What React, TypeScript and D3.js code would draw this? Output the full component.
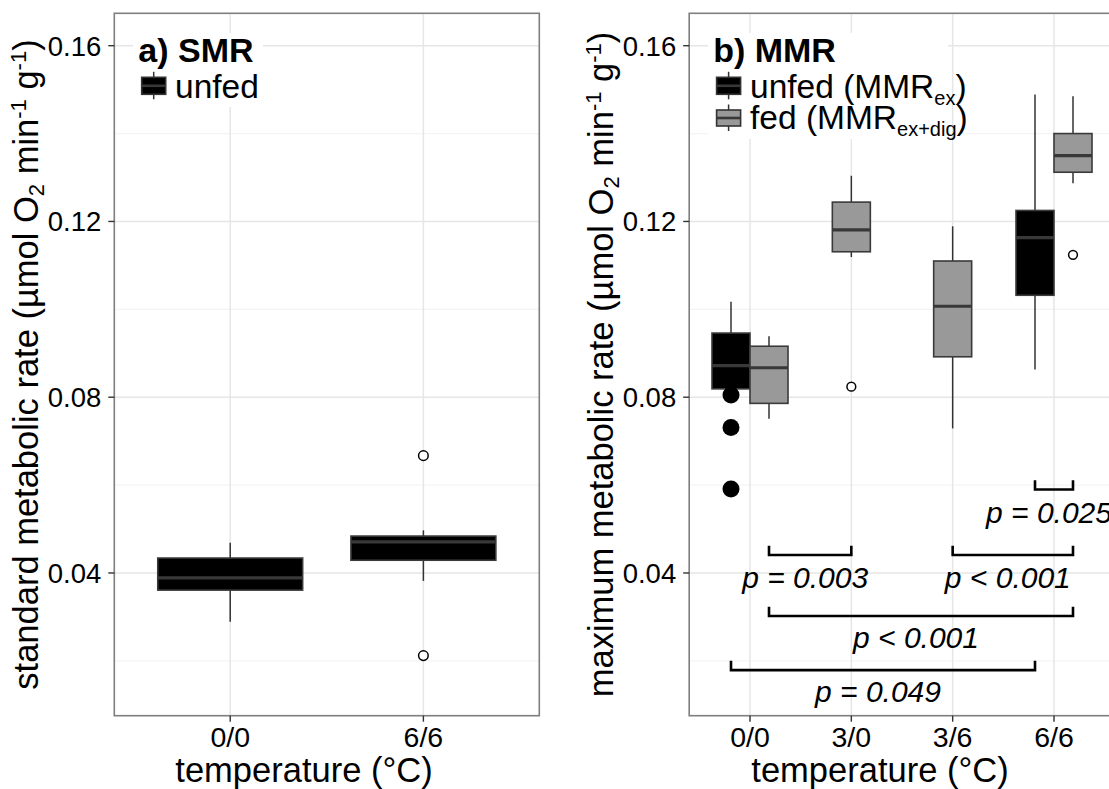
import React from "react";
import * as d3 from "d3";

// ---------- data ----------
const smrCategories = ["0/0", "6/6"];
const smrLower = [0.0289, 0.0382];
const smrQ1 = [0.0361, 0.0429];
const smrMedian = [0.0389, 0.0471];
const smrQ3 = [0.0434, 0.0484];
const smrUpper = [0.0469, 0.0497];
const smrOutliers: number[][] = [[], [0.0667, 0.0212]];

const mmrCategories = ["0/0", "3/0", "3/6", "6/6"];

const unfedCategories = ["0/0", "6/6"];
const unfedLower = [0.0819, 0.0863];
const unfedQ1 = [0.0819, 0.1032];
const unfedMedian = [0.0872, 0.1163];
const unfedQ3 = [0.0946, 0.1225];
const unfedUpper = [0.1017, 0.1489];
const unfedOutliers: number[][] = [[0.0805, 0.0731, 0.0591], []];

const fedCategories = ["0/0", "3/0", "3/6", "6/6"];
const fedLower = [0.0751, 0.1119, 0.0729, 0.1287];
const fedQ1 = [0.0786, 0.1131, 0.0892, 0.1312];
const fedMedian = [0.0867, 0.1181, 0.1007, 0.135];
const fedQ3 = [0.0916, 0.1244, 0.111, 0.14];
const fedUpper = [0.0939, 0.1304, 0.1189, 0.1485];
const fedOutliers: number[][] = [[], [0.0824], [], [0.1124]];

const bracketLabels = ["p = 0.025", "p = 0.003", "p < 0.001", "p < 0.001", "p = 0.049"];
const bracketFromCat = ["6/6", "0/0", "3/6", "0/0", "0/0"];
const bracketFromGroup = ["unfed", "fed", "fed", "fed", "unfed"];
const bracketToCat = ["6/6", "3/0", "6/6", "6/6", "6/6"];
const bracketToGroup = ["fed", "fed", "fed", "fed", "unfed"];
const bracketY = [0.059, 0.0441, 0.0441, 0.0302, 0.0179];
const bracketLabelY = [0.0513, 0.0365, 0.0365, 0.0229, 0.0107];
const bracketTick = 0.0021;

const yMajorTicks = [0.04, 0.08, 0.12, 0.16];
const yMinorTicks = [0.02, 0.06, 0.1, 0.14];

// ---------- layout ----------
const W = 1109;
const H = 789;
const TOP = 13.3;
const BOT = 715.7;
const LEFT_PANEL: [number, number] = [114.3, 539.3];
const RIGHT_PANEL: [number, number] = [689.2, 1114.8];
const FONT = "'Liberation Sans', Arial, Helvetica, sans-serif";
const BOX_W = 0.75;

const y = d3.scaleLinear().domain([0.00752, 0.16737]).range([BOT, TOP]);
const fmt = d3.format(".2f");

function PanelFrame({ x, cats }: { x: d3.ScalePoint<string>; cats: string[] }) {
  const [x0, x1] = x.range();
  return (
    <g>
      <rect x={x0} y={TOP} width={x1 - x0} height={BOT - TOP} fill="#fff" />
      {yMinorTicks.map((t) => (
        <line key={"mi" + t} x1={x0} x2={x1} y1={y(t)} y2={y(t)} stroke="#f4f4f4" strokeWidth={1.2} />
      ))}
      {yMajorTicks.map((t) => (
        <line key={"ma" + t} x1={x0} x2={x1} y1={y(t)} y2={y(t)} stroke="#e6e6e6" strokeWidth={1.5} />
      ))}
      {cats.map((c) => (
        <line key={"v" + c} x1={x(c)!} x2={x(c)!} y1={TOP} y2={BOT} stroke="#e6e6e6" strokeWidth={1.5} />
      ))}
    </g>
  );
}

function Axes({ x, cats }: { x: d3.ScalePoint<string>; cats: string[] }) {
  const [x0, x1] = x.range();
  return (
    <g fontFamily={FONT}>
      <rect x={x0} y={TOP} width={x1 - x0} height={BOT - TOP} fill="none" stroke="#7f7f7f" strokeWidth={1.6} />
      {yMajorTicks.map((t) => (
        <g key={"yt" + t}>
          <line x1={x0 - 6} x2={x0} y1={y(t)} y2={y(t)} stroke="#333" strokeWidth={1.4} />
          <text x={x0 - 13} y={y(t)} dy="0.36em" textAnchor="end" fontSize={27.5} fill="#000">
            {fmt(t)}
          </text>
        </g>
      ))}
      {cats.map((c) => (
        <g key={"xt" + c}>
          <line x1={x(c)!} x2={x(c)!} y1={BOT} y2={BOT + 6} stroke="#333" strokeWidth={1.4} />
          <text x={x(c)!} y={747} textAnchor="middle" fontSize={28.5} fill="#000">
            {c}
          </text>
        </g>
      ))}
    </g>
  );
}

function BoxPlot(props: {
  cx: number; half: number; lo: number; q1: number; med: number; q3: number; hi: number;
  fill: string; outliers: number[]; outlierType: "hollow" | "hollowSmall" | "filled";
}) {
  const { cx, half, lo, q1, med, q3, hi, fill, outliers, outlierType } = props;
  return (
    <g>
      <line x1={cx} x2={cx} y1={y(hi)} y2={y(q3)} stroke="#333" strokeWidth={1.5} />
      <line x1={cx} x2={cx} y1={y(q1)} y2={y(lo)} stroke="#333" strokeWidth={1.5} />
      <rect x={cx - half} y={y(q3)} width={2 * half} height={y(q1) - y(q3)} fill={fill} stroke="#3a3a3a" strokeWidth={1.6} />
      <line x1={cx - half} x2={cx + half} y1={y(med)} y2={y(med)} stroke="#383838" strokeWidth={3.2} />
      {outliers.map((o, i) =>
        outlierType === "filled" ? (
          <circle key={i} cx={cx} cy={y(o)} r={8.5} fill="#000" />
        ) : (
          <circle key={i} cx={cx} cy={y(o)} r={outlierType === "hollow" ? 4.8 : 4.4} fill="#fff" stroke="#000" strokeWidth={1.5} />
        )
      )}
    </g>
  );
}

function LegendKey({ x0, y0, w, h, fill }: { x0: number; y0: number; w: number; h: number; fill: string }) {
  const cx = x0 + w / 2;
  return (
    <g>
      <line x1={cx} x2={cx} y1={y0 - 5.5} y2={y0 + h + 5} stroke="#333" strokeWidth={1.5} />
      <rect x={x0} y={y0} width={w} height={h} fill={fill} stroke="#333" strokeWidth={1.6} />
      <line x1={x0} x2={x0 + w} y1={y0 + h / 2} y2={y0 + h / 2} stroke="#383838" strokeWidth={2.6} />
    </g>
  );
}

function YTitle({ x, label }: { x: number; label: string }) {
  return (
    <text transform={`translate(${x},${(TOP + BOT) / 2}) rotate(-90)`} textAnchor="middle" fontSize={34.5} fontFamily={FONT} fill="#000">
      {label + " (µmol O"}
      <tspan fontSize={22} dy={6}>2</tspan>
      <tspan dy={-6}>{" min"}</tspan>
      <tspan fontSize={22} dy={-12}>-1</tspan>
      <tspan dy={12}>{" g"}</tspan>
      <tspan fontSize={22} dy={-12}>-1</tspan>
      <tspan dy={12}>)</tspan>
    </text>
  );
}

export default function App() {
  const xL = d3.scalePoint<string>().domain(smrCategories).range(LEFT_PANEL).padding(0.6);
  const xR = d3.scalePoint<string>().domain(mmrCategories).range(RIGHT_PANEL).padding(0.6);
  const stepL = xL.step();
  const stepR = xR.step();

  const both = (cat: string) => unfedCategories.includes(cat) && fedCategories.includes(cat);
  const groupPos = (cat: string, group: string) => {
    const off = both(cat) ? (group === "unfed" ? -BOX_W / 4 : BOX_W / 4) * stepR : 0;
    return xR(cat)! + off;
  };
  const groupHalf = (BOX_W / 4) * stepR;

  return (
    <svg width={W} height={H} style={{ position: "absolute", left: 0, top: 0, background: "#fff" }} fontFamily={FONT}>
      <rect width={W} height={H} fill="#fff" />
      {/* ---------- panel a ---------- */}
      <PanelFrame x={xL} cats={smrCategories} />
      {smrCategories.map((c, i) => (
        <BoxPlot key={c} cx={xL(c)!} half={(BOX_W / 2) * stepL} lo={smrLower[i]} q1={smrQ1[i]} med={smrMedian[i]} q3={smrQ3[i]}
          hi={smrUpper[i]} fill="#000" outliers={smrOutliers[i]} outlierType="hollow" />
      ))}
      <rect x={133} y={33} width={130} height={74} fill="#fff" />
      <text x={138.3} y={61.7} fontSize={34} fontWeight="bold" fill="#000">a) SMR</text>
      <LegendKey x0={141.7} y0={77.3} w={24} h={17} fill="#000" />
      <text x={175} y={98.3} fontSize={33.5} fill="#000">unfed</text>
      <Axes x={xL} cats={smrCategories} />
      <YTitle x={38} label="standard metabolic rate" />
      <text x={304} y={782} textAnchor="middle" fontSize={34.5} fill="#000">temperature (°C)</text>

      {/* ---------- panel b ---------- */}
      <PanelFrame x={xR} cats={mmrCategories} />
      {unfedCategories.map((c, i) => (
        <BoxPlot key={"u" + c} cx={groupPos(c, "unfed")} half={groupHalf} lo={unfedLower[i]} q1={unfedQ1[i]} med={unfedMedian[i]}
          q3={unfedQ3[i]} hi={unfedUpper[i]} fill="#000" outliers={unfedOutliers[i]} outlierType="filled" />
      ))}
      {fedCategories.map((c, i) => (
        <BoxPlot key={"f" + c} cx={groupPos(c, "fed")} half={groupHalf} lo={fedLower[i]} q1={fedQ1[i]} med={fedMedian[i]}
          q3={fedQ3[i]} hi={fedUpper[i]} fill="#999999" outliers={fedOutliers[i]} outlierType="hollowSmall" />
      ))}
      {bracketLabels.map((lab, i) => {
        const xa = groupPos(bracketFromCat[i], bracketFromGroup[i]);
        const xb = groupPos(bracketToCat[i], bracketToGroup[i]);
        const yl = y(bracketY[i]);
        const yt = y(bracketY[i] + bracketTick);
        return (
          <g key={"b" + i}>
            <path d={`M${xa},${yt}V${yl}H${xb}V${yt}`} fill="none" stroke="#000" strokeWidth={2.6} />
            <text x={(xa + xb) / 2 - 5} y={y(bracketLabelY[i])} textAnchor="middle" fontSize={30} fontStyle="italic" fill="#000">
              {lab}
            </text>
          </g>
        );
      })}
      <rect x={708} y={33} width={240} height={106} fill="#fff" />
      <text x={713.2} y={61.7} fontSize={34} fontWeight="bold" fill="#000">b) MMR</text>
      <LegendKey x0={716.6} y0={77.3} w={24} h={17} fill="#000" />
      <text x={750} y={97.5} fontSize={33.5} fill="#000">
        {"unfed (MMR"}
        <tspan fontSize={20} dy={7}>ex</tspan>
        <tspan dy={-7}>)</tspan>
      </text>
      <LegendKey x0={716.6} y0={110} w={24} h={16} fill="#999999" />
      <text x={750} y={128.5} fontSize={33.5} fill="#000">
        {"fed (MMR"}
        <tspan fontSize={20} dy={7}>ex+dig</tspan>
        <tspan dy={-7}>)</tspan>
      </text>
      <Axes x={xR} cats={mmrCategories} />
      <YTitle x={613} label="maximum metabolic rate" />
      <text x={880} y={782} textAnchor="middle" fontSize={34.5} fill="#000">temperature (°C)</text>
    </svg>
  );
}
